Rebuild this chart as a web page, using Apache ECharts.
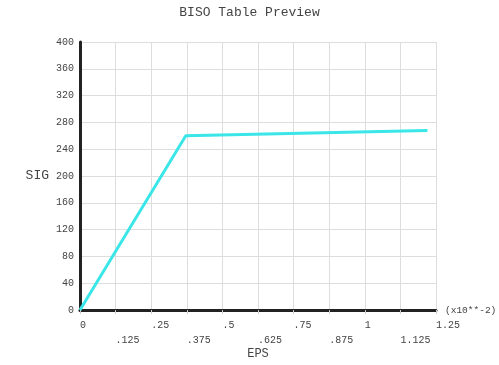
<!DOCTYPE html>
<html><head><meta charset="utf-8">
<script src="https://cdn.jsdelivr.net/npm/echarts@6/dist/echarts.min.js"></script>
<style>html,body{margin:0;padding:0;background:#fff}#c{width:499px;height:365px}</style>
</head><body><div id="c"></div>
<script>
const epsValues = [0, 0.3714, 1.22];
const sigValues = [0, 260, 268];
const xTickLabels = ['0','.125','.25','.375','.5','.625','.75','.875','1','1.125','1.25'];
const yTickLabels = ['0','40','80','120','160','200','240','280','320','360','400'];

const mono = 'Liberation Mono';
const chart = echarts.init(document.getElementById('c'));
chart.setOption({
  animation: false,
  backgroundColor: '#fff',
  title: {
    text: 'BISO Table Preview', left: 'center', top: 1,
    textStyle: {fontFamily: mono, fontSize: 13, fontWeight: 'normal', color: '#444'}
  },
  grid: {left: 80, right: 63, top: 42, bottom: 55, containLabel: false, outerBoundsMode: 'none'},
  xAxis: {
    type: 'value', min: 0, max: 1.25, interval: 0.125,
    name: 'EPS', nameLocation: 'middle', nameGap: 38, nameMoveOverlap: false,
    nameTextStyle: {fontFamily: mono, fontSize: 12, color: '#444'},
    axisLine: {show: true, lineStyle: {color: '#222', width: 3}},
    axisTick: {show: true, length: 4, lineStyle: {color: '#ccc'}},
    splitLine: {show: true, lineStyle: {color: '#ddd', width: 1}},
    axisLabel: {
      fontFamily: mono, fontSize: 10, color: '#444', align: 'left', margin: 8,
      lineHeight: 15,
      formatter: function (v) {
        const i = Math.round(v / 0.125);
        const t = xTickLabels[i];
        return i % 2 ? '\n' + t : t;
      }
    }
  },
  yAxis: {
    type: 'value', min: 0, max: 400, interval: 40,
    name: 'SIG', nameLocation: 'middle', nameGap: 31, nameRotate: 0, nameMoveOverlap: false,
    nameTextStyle: {fontFamily: mono, fontSize: 13, color: '#444', align: 'right', padding: [0, 0, 6, 0]},
    axisLine: {show: true, lineStyle: {color: '#222', width: 3}},
    axisTick: {show: false},
    splitLine: {show: true, lineStyle: {color: '#ddd', width: 1}},
    axisLabel: {
      fontFamily: mono, fontSize: 10, color: '#444', margin: 6,
      formatter: function (v) { return yTickLabels[Math.round(v / 40)]; }
    }
  },
  graphic: [{
    type: 'text', left: 445, top: 305,
    style: {text: '(x10**-2)', fontFamily: mono, fontSize: 9.5, fill: '#444'}
  }],
  series: [{
    type: 'line', symbol: 'none',
    data: epsValues.map((x, i) => [x, sigValues[i]]),
    lineStyle: {color: '#3ae6e8', width: 3}
  }]
});
</script></body></html>
